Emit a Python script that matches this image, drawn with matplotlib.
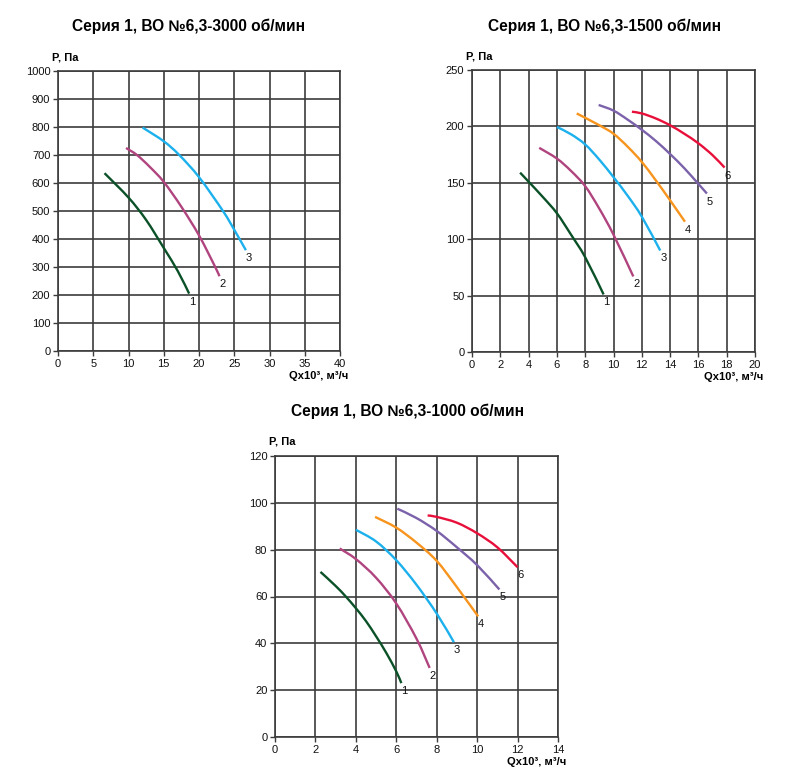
import matplotlib
matplotlib.use("Agg")
import matplotlib.pyplot as plt
from matplotlib.path import Path
from matplotlib.patches import PathPatch

plt.rcParams['font.family'] = ['Liberation Sans', 'DejaVu Sans']

# ---------------- data ----------------
titles = ["Серия 1, ВО №6,3-3000 об/мин",
          "Серия 1, ВО №6,3-1500 об/мин",
          "Серия 1, ВО №6,3-1000 об/мин"]
y_label = "P, Па"
x_label = "Qx10³, м³/ч"

colors = ["#0b5128", "#b0447f", "#1cb0ec", "#f7941d", "#7b62aa", "#e8103a"]
curve_labels = ["1", "2", "3", "4", "5", "6"]

# 3000 rpm
xlim_a, xticks_a = 40, [0, 5, 10, 15, 20, 25, 30, 35, 40]
ylim_a, yticks_a = 1000, [0, 100, 200, 300, 400, 500, 600, 700, 800, 900, 1000]
q_a = [
    [6.6, 10, 12.5, 15, 17, 18.6],
    [9.65, 11.2, 13, 15, 17.5, 20, 22.3, 22.9],
    [12, 15, 17.2, 20, 23.4, 25, 26.65],
]
p_a = [
    [635, 548, 468, 368, 285, 205],
    [725, 700, 658, 604, 515, 413, 300, 267],
    [798, 749, 700, 621, 500, 433, 360],
]

# 1500 rpm
xlim_b, xticks_b = 20, [0, 2, 4, 6, 8, 10, 12, 14, 16, 18, 20]
ylim_b, yticks_b = 250, [0, 50, 100, 150, 200, 250]
q_b = [
    [3.4, 4, 5, 6, 7, 8, 9.3],
    [4.75, 6, 7, 8, 9, 10, 11.4],
    [6, 7, 8, 9, 10, 11, 12, 13.3],
    [7.4, 9, 10, 11, 12, 13, 14, 15.05],
    [8.95, 10, 11, 12, 13, 14, 15, 16, 16.6],
    [11.3, 12, 13, 14, 15, 16, 17, 17.85],
]
p_b = [
    [159, 151, 137.5, 123, 104, 84, 51],
    [181, 171.5, 160.5, 147, 127, 104, 67],
    [199.5, 193, 184, 170.5, 155, 138.5, 120, 90],
    [211.5, 201, 193.5, 182, 168.5, 152, 134.5, 115.5],
    [219, 214, 206, 197, 187, 175.5, 163, 149, 140.5],
    [213, 211.5, 207, 201, 193.5, 185, 174.5, 163.5],
]

# 1000 rpm
xlim_c, xticks_c = 14, [0, 2, 4, 6, 8, 10, 12, 14]
ylim_c, yticks_c = 120, [0, 20, 40, 60, 80, 100, 120]
q_c = [
    [2.25, 3, 3.5, 4, 4.5, 5, 5.5, 6, 6.25],
    [3.2, 4, 5, 6, 7, 7.65],
    [4, 5, 6, 7, 8, 8.85],
    [4.95, 6, 7, 8, 9, 10.05],
    [6.05, 7, 8, 9, 10, 11.1],
    [7.55, 8, 9, 10, 11, 12],
]
p_c = [
    [70.5, 64.5, 60, 55, 49.5, 43, 36, 28, 23],
    [80.5, 76, 68, 57, 42, 29.5],
    [88.5, 83.5, 75.5, 65, 52.7, 40.5],
    [94, 89.4, 83, 75.2, 64, 51.5],
    [97.5, 93.5, 88, 81, 73.4, 63],
    [94.6, 94, 91.5, 87, 81, 72.5],
]

# ---------------- figure ----------------
W, H = 800, 784
fig = plt.figure(figsize=(W / 100, H / 100), dpi=100)

grid_col = "#3c3c3c"


def box(l, t, r, b):
    return [l / W, 1 - b / H, (r - l) / W, (b - t) / H]


def smooth_path(x, y):
    """Catmull-Rom style cubic Bezier path through the given data points."""
    n = len(x)
    verts = [(x[0], y[0])]
    codes = [Path.MOVETO]
    for i in range(n - 1):
        xa, ya = (x[i - 1], y[i - 1]) if i > 0 else (x[i], y[i])
        xd, yd = (x[i + 2], y[i + 2]) if i + 2 < n else (x[i + 1], y[i + 1])
        c1 = (x[i] + (x[i + 1] - xa) / 6, y[i] + (y[i + 1] - ya) / 6)
        c2 = (x[i + 1] - (xd - x[i]) / 6, y[i + 1] - (yd - y[i]) / 6)
        verts += [c1, c2, (x[i + 1], y[i + 1])]
        codes += [Path.CURVE4] * 3
    return Path(verts, codes)


def panel(rect, xlim, xticks, ylim, yticks, qs, ps, title, title_xy):
    ax = fig.add_axes(rect)
    ax.set_xlim(0, xlim)
    ax.set_ylim(0, ylim)
    ax.set_xticks(xticks)
    ax.set_yticks(yticks)
    ax.grid(True, color=grid_col, linewidth=1.2)
    ax.set_axisbelow(True)
    for s in ax.spines.values():
        s.set_color(grid_col)
        s.set_linewidth(1.2)
    ax.tick_params(direction='out', length=3.5, width=1.0, color=grid_col,
                   labelsize=8, labelcolor="#111111", pad=2)
    for i, (q, p) in enumerate(zip(qs, ps)):
        patch = PathPatch(smooth_path(q, p), facecolor='none',
                          edgecolor=colors[i], linewidth=1.7,
                          capstyle='butt', zorder=3)
        ax.add_patch(patch)
        ax.annotate(curve_labels[i], xy=(q[-1], p[-1]), xytext=(3, -8),
                    textcoords='offset pixels', ha='center', va='center',
                    fontsize=8, color="#111111", zorder=4)
    ax.annotate(y_label, xy=(0, 1), xycoords='axes fraction', xytext=(7, 14),
                textcoords='offset pixels', ha='center', va='center',
                fontsize=8, fontweight='bold')
    ax.annotate(x_label, xy=(1, 0), xycoords='axes fraction', xytext=(8, -25),
                textcoords='offset pixels', ha='right', va='center',
                fontsize=8, fontweight='bold')
    fig.text(title_xy[0] / W, 1 - title_xy[1] / H, title, ha='center',
             va='center', fontsize=11.2, fontweight='bold')
    return ax


panel(box(58, 71, 340, 351), xlim_a, xticks_a, ylim_a, yticks_a, q_a, p_a,
      titles[0], (189, 26))
panel(box(472, 70, 755, 352), xlim_b, xticks_b, ylim_b, yticks_b, q_b, p_b,
      titles[1], (605, 26))
panel(box(275, 456, 558, 737), xlim_c, xticks_c, ylim_c, yticks_c, q_c, p_c,
      titles[2], (408, 411))

fig.savefig("out.png", dpi=100)
